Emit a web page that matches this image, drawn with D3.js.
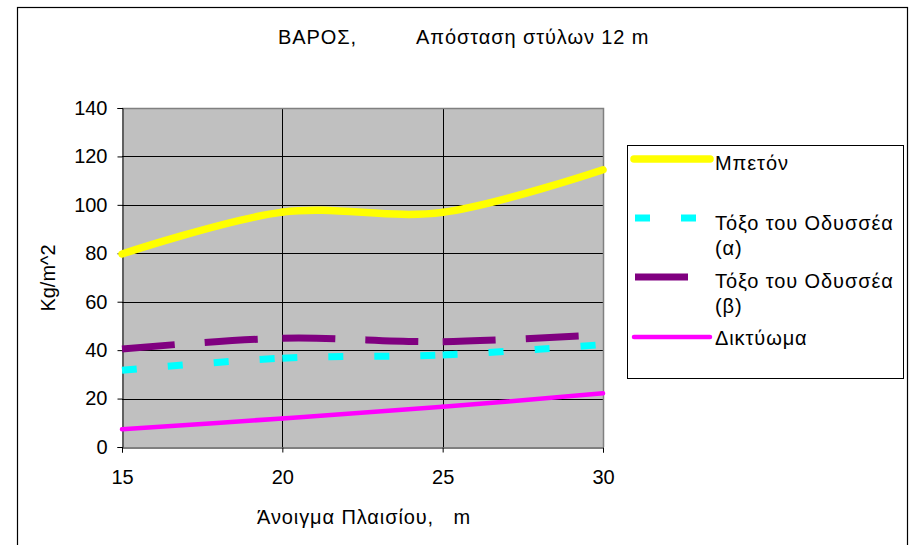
<!DOCTYPE html>
<html>
<head>
<meta charset="utf-8">
<script src="https://cdn.jsdelivr.net/npm/d3@7"></script>
<style>
  html, body { margin: 0; padding: 0; background: #fff; }
  svg { display: block; font-family: "Liberation Sans", Arial, sans-serif; }
  .greek { letter-spacing: 0.9px; }
</style>
</head>
<body>
<svg id="chart" width="912" height="545"></svg>
<script>
// Span of the frame (m)
const spans = [15, 20, 25, 30];

// Weight per square metre for each structural system
const concrete   = [79.7, 97.0, 96.9, 114.5];   // Μπετόν
const bowA       = [31.7, 36.7, 38.0, 42.3];    // Τόξο του Οδυσσέα (α)
const bowB       = [40.5, 44.9, 43.5, 46.4];    // Τόξο του Οδυσσέα (β)
const truss      = [7.3, 11.8, 16.6, 22.2];     // Δικτύωμα

const yTicks = [0, 20, 40, 60, 80, 100, 120, 140];
const xTicks = [15, 20, 25, 30];

const seriesNames = ["Μπετόν", "Τόξο του Οδυσσέα (α)", "Τόξο του Οδυσσέα (β)", "Δικτύωμα"];

const series = [
  { name: seriesNames[0], values: concrete, color: "#ffff00", width: 7.5, dash: null },
  { name: seriesNames[1], values: bowA,     color: "#00ffff", width: 7,   dash: "15,31" },
  { name: seriesNames[2], values: bowB,     color: "#800080", width: 7,   dash: "53,30" },
  { name: seriesNames[3], values: truss,    color: "#ff00ff", width: 4.5, dash: null }
];

const FONT = "20px";
const svg = d3.select("#chart");

// outer chart frame
svg.append("rect")
  .attr("x", 17.5).attr("y", 7.5)
  .attr("width", 890).attr("height", 545)
  .attr("fill", "#fff").attr("stroke", "#000").attr("stroke-width", 1.2);

const plot = { left: 122, right: 603, top: 108, bottom: 447 };

const x = d3.scaleLinear().domain([15, 30]).range([plot.left, plot.right]);
const y = d3.scaleLinear().domain([0, 140]).range([plot.bottom, plot.top]);

// plot background
svg.append("rect")
  .attr("x", plot.left).attr("y", plot.top)
  .attr("width", plot.right - plot.left).attr("height", plot.bottom - plot.top)
  .attr("fill", "#c0c0c0");

// gridlines
svg.append("g").selectAll("line")
  .data(yTicks.filter(d => d > 0 && d < 140))
  .join("line")
  .attr("x1", plot.left).attr("x2", plot.right)
  .attr("y1", d => Math.round(y(d)) + 0.5).attr("y2", d => Math.round(y(d)) + 0.5)
  .attr("stroke", "#000").attr("stroke-width", 1);

svg.append("g").selectAll("line")
  .data(xTicks.filter(d => d > 15 && d < 30))
  .join("line")
  .attr("x1", d => Math.round(x(d)) + 0.5).attr("x2", d => Math.round(x(d)) + 0.5)
  .attr("y1", plot.top).attr("y2", plot.bottom)
  .attr("stroke", "#000").attr("stroke-width", 1);

// plot area border (top / right)
svg.append("path")
  .attr("d", `M${plot.left},${plot.top + 0.5}H${plot.right + 0.5}V${plot.bottom}`)
  .attr("fill", "none").attr("stroke", "#808080").attr("stroke-width", 1.5);

// axes
const yAxis = d3.axisLeft(y).tickValues(yTicks).tickSize(5).tickPadding(10);
const xAxis = d3.axisBottom(x).tickValues(xTicks).tickSize(5).tickPadding(17).tickFormat(d3.format("d"));

const gy = svg.append("g").attr("transform", `translate(${plot.left + 0.5},0)`).call(yAxis);
const gx = svg.append("g").attr("transform", `translate(0,${plot.bottom + 0.5})`).call(xAxis);

[gx, gy].forEach(g => {
  g.select(".domain").attr("stroke", "#000").attr("stroke-width", 1);
  g.selectAll(".tick line").attr("stroke", "#000");
  g.selectAll(".tick text")
    .attr("fill", "#000")
    .style("font-family", '"Liberation Sans", Arial, sans-serif')
    .style("font-size", FONT);
});

// Each data segment is drawn as its own path, so dash patterns restart at every point.
function segmentPaths(values) {
  const segs = [];
  let last = null;
  const ctx = {
    moveTo(px, py) { last = [px, py]; },
    lineTo(px, py) {
      const p = d3.path(); p.moveTo(last[0], last[1]); p.lineTo(px, py);
      segs.push(p.toString()); last = [px, py];
    },
    bezierCurveTo(a, b, c, d, e, f) {
      const p = d3.path(); p.moveTo(last[0], last[1]); p.bezierCurveTo(a, b, c, d, e, f);
      segs.push(p.toString()); last = [e, f];
    },
    closePath() {}
  };
  d3.line()
    .x((d, i) => x(spans[i]))
    .y(d => y(d))
    .curve(d3.curveCardinal.tension(0))
    .context(ctx)(values);
  return segs;
}

const linesG = svg.append("g");
series.forEach(s => {
  linesG.append("g").selectAll("path")
    .data(segmentPaths(s.values))
    .join("path")
    .attr("d", d => d)
    .attr("fill", "none")
    .attr("stroke", s.color)
    .attr("stroke-width", s.width)
    .attr("stroke-linejoin", "round")
    .attr("stroke-linecap", s.dash ? "butt" : "round")
    .attr("stroke-dasharray", s.dash);
});

// title
const title = svg.append("text")
  .attr("y", 44)
  .attr("class", "greek")
  .style("font-size", FONT)
  .attr("fill", "#000");
title.append("tspan").attr("x", 278).text("ΒΑΡΟΣ,");
title.append("tspan").attr("x", 416).text("Απόσταση στύλων 12 m");

// axis titles
svg.append("text")
  .attr("x", 257).attr("y", 524)
  .attr("class", "greek")
  .style("font-size", FONT)
  .style("white-space", "pre")
  .text("Άνοιγμα Πλαισίου,   m");

svg.append("text")
  .attr("transform", "translate(55,278) rotate(-90)")
  .attr("text-anchor", "middle")
  .style("font-size", FONT)
  .text("Kg/m^2");

// legend
const lg = svg.append("g");
lg.append("rect")
  .attr("x", 627.5).attr("y", 145.5)
  .attr("width", 276).attr("height", 233)
  .attr("fill", "#fff").attr("stroke", "#000").attr("stroke-width", 1);

const legendItems = [
  { s: series[0], ly: 159, lines: ["Μπετόν"], ty: 170 },
  { s: series[1], ly: 218, lines: ["Τόξο του Οδυσσέα", "(α)"], ty: 230 },
  { s: series[2], ly: 277, lines: ["Τόξο του Οδυσσέα", "(β)"], ty: 288 },
  { s: series[3], ly: 337, lines: ["Δικτύωμα"], ty: 345 }
];

legendItems.forEach(it => {
  const dashed = !!it.s.dash;
  lg.append("line")
    .attr("x1", dashed ? 635 : 634).attr("x2", dashed ? 712 : 710)
    .attr("y1", it.ly).attr("y2", it.ly)
    .attr("stroke", it.s.color)
    .attr("stroke-width", it.s.width)
    .attr("stroke-linecap", dashed ? "butt" : "round")
    .attr("stroke-dasharray", it.s.dash);
  const t = lg.append("text").attr("y", it.ty).attr("class", "greek")
    .style("font-size", FONT).attr("fill", "#000");
  it.lines.forEach((ln, i) => {
    t.append("tspan").attr("x", 715).attr("dy", i === 0 ? 0 : 25).text(ln);
  });
});
</script>
</body>
</html>
